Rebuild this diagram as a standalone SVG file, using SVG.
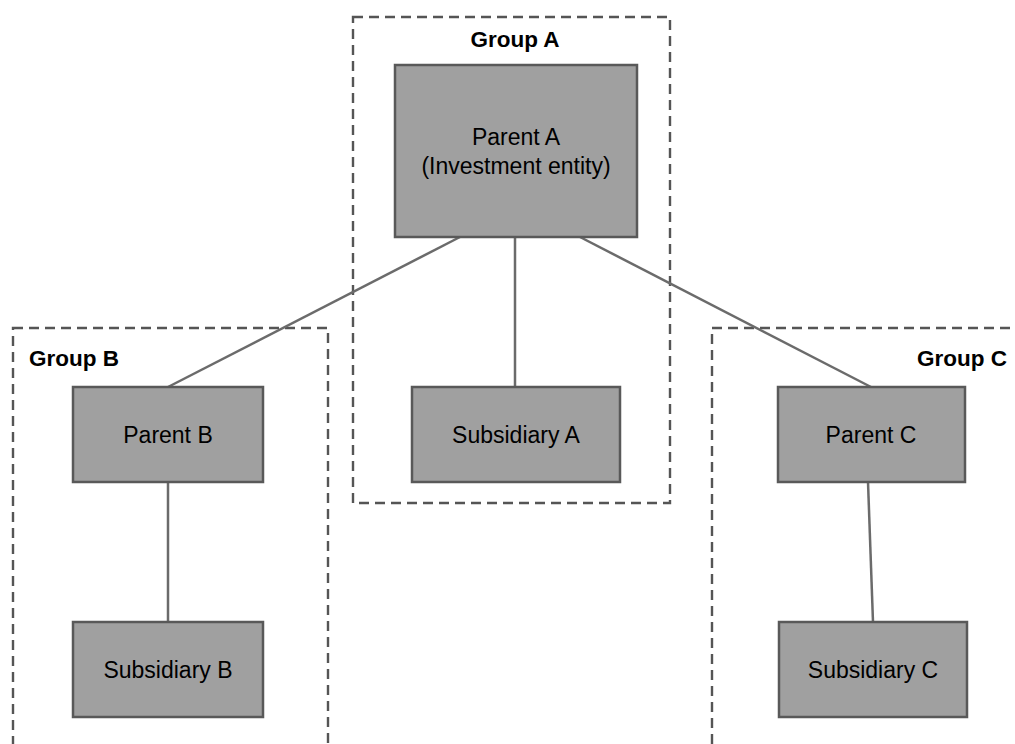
<svg xmlns="http://www.w3.org/2000/svg" width="1015" height="744" viewBox="0 0 1015 744">
<style>
.grp{fill:none;stroke:#555;stroke-width:2.4;stroke-dasharray:10 6}
.box{fill:#a0a0a0;stroke:#595959;stroke-width:2.5}
.lbl{font-family:"Liberation Sans",Arial,sans-serif;font-size:23px;fill:#000}
.glbl{font-family:"Liberation Sans",Arial,sans-serif;font-size:22.5px;font-weight:bold;fill:#000}
.con{stroke:#6b6b6b;stroke-width:2.5;fill:none}
</style>
<rect width="1015" height="744" fill="#fff"/>
<g id="groups">
<g id="groupA"><rect class="grp" x="353" y="17" width="317" height="486"/><text class="glbl" x="515" y="47" text-anchor="middle">Group A</text></g>
<g id="groupB"><rect class="grp" x="13" y="328" width="315" height="430"/><text class="glbl" x="29" y="366">Group B</text></g>
<g id="groupC"><rect class="grp" x="712" y="328" width="330" height="430"/><text class="glbl" x="1007" y="366" text-anchor="end">Group C</text></g>
</g>
<g id="connectors">
<line class="con" x1="460" y1="237" x2="168" y2="387"/>
<line class="con" x1="515" y1="237" x2="515" y2="387"/>
<line class="con" x1="580" y1="237" x2="871" y2="387"/>
<line class="con" x1="168" y1="482" x2="168" y2="622"/>
<line class="con" x1="868" y1="482" x2="873" y2="622"/>
</g>
<g id="parentA"><rect class="box" x="395" y="65" width="242" height="172"/><text class="lbl" x="516" y="145" text-anchor="middle">Parent A</text><text class="lbl" x="516" y="174" text-anchor="middle">(Investment entity)</text></g>
<g id="subsidiaryA"><rect class="box" x="412" y="387" width="208" height="95"/><text class="lbl" x="516" y="443" text-anchor="middle">Subsidiary A</text></g>
<g id="parentB"><rect class="box" x="73" y="387" width="190" height="95"/><text class="lbl" x="168" y="443" text-anchor="middle">Parent B</text></g>
<g id="subsidiaryB"><rect class="box" x="73" y="622" width="190" height="95"/><text class="lbl" x="168" y="678" text-anchor="middle">Subsidiary B</text></g>
<g id="parentC"><rect class="box" x="778" y="387" width="187" height="95"/><text class="lbl" x="871" y="443" text-anchor="middle">Parent C</text></g>
<g id="subsidiaryC"><rect class="box" x="779" y="622" width="188" height="95"/><text class="lbl" x="873" y="678" text-anchor="middle">Subsidiary C</text></g>
</svg>
